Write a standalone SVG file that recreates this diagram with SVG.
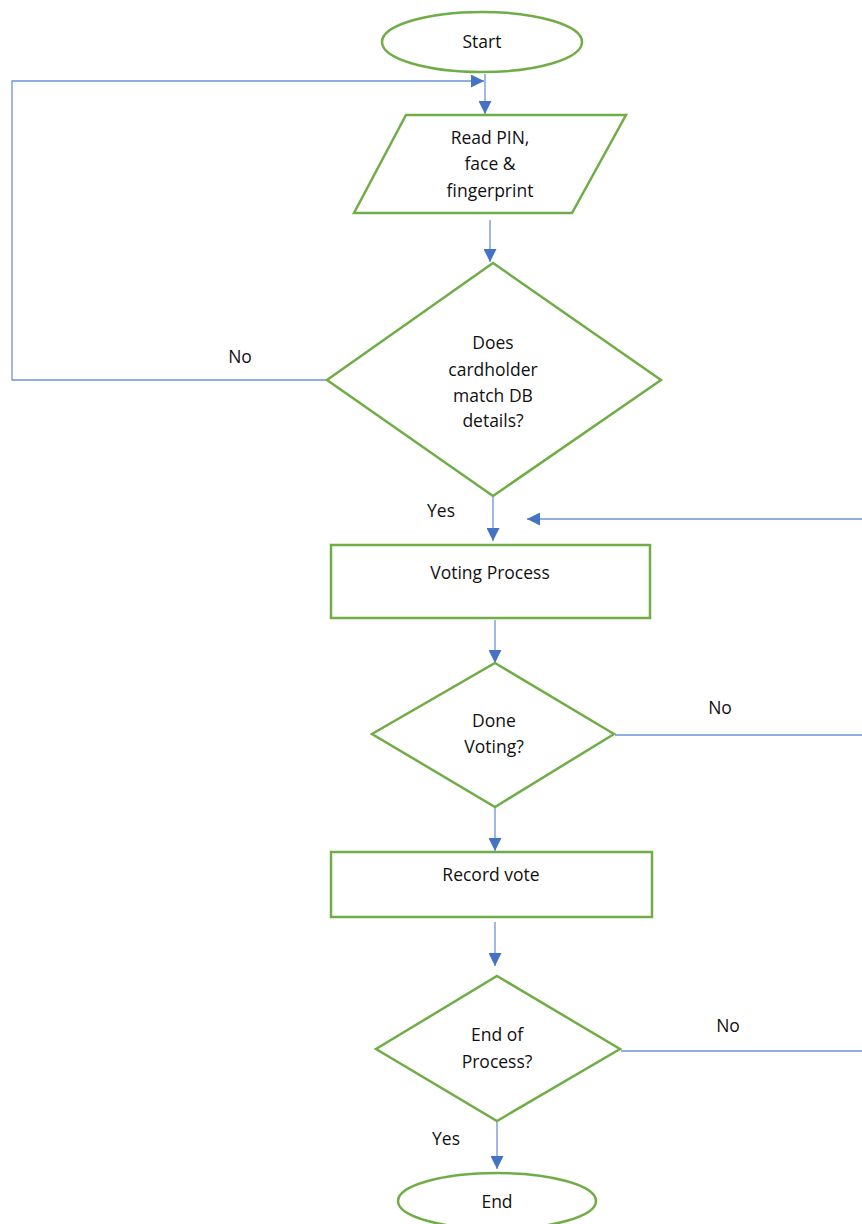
<svg xmlns="http://www.w3.org/2000/svg" width="862" height="1224" viewBox="0 0 862 1224">
<style>
.shape{fill:#fff;stroke:#70AD47;stroke-width:2.5}
.conn{fill:none;stroke:#6E93D6;stroke-width:1.3}
.t{font-family:"Open Sans","Liberation Sans",sans-serif;font-size:17.5px;fill:#111;text-anchor:middle}
</style>
<defs>
<marker id="ah" markerWidth="13" markerHeight="13" viewBox="0 0 12 12" refX="12" refY="6" orient="auto" markerUnits="userSpaceOnUse">
<path d="M0,0 L12,6 L0,12 Z" fill="#4472C4"/>
</marker>
</defs>
<rect width="862" height="1224" fill="#fff"/>
<g id="connectors">
<line class="conn" x1="485" y1="74" x2="485" y2="114" marker-end="url(#ah)"/>
<polyline class="conn" points="327,380 12,380 12,81 484,81" marker-end="url(#ah)"/>
<line class="conn" x1="490" y1="220" x2="490" y2="262" marker-end="url(#ah)"/>
<line class="conn" x1="493" y1="497" x2="493" y2="541" marker-end="url(#ah)"/>
<line class="conn" x1="862" y1="519" x2="527" y2="519" marker-end="url(#ah)"/>
<line class="conn" x1="495" y1="620" x2="495" y2="663" marker-end="url(#ah)"/>
<line class="conn" x1="615" y1="735" x2="862" y2="735"/>
<line class="conn" x1="495" y1="808" x2="495" y2="851" marker-end="url(#ah)"/>
<line class="conn" x1="495" y1="922" x2="495" y2="966" marker-end="url(#ah)"/>
<line class="conn" x1="621" y1="1051" x2="862" y2="1051"/>
<line class="conn" x1="497" y1="1122" x2="497" y2="1169" marker-end="url(#ah)"/>
<text class="t" x="240" y="363">No</text>
<text class="t" x="441" y="517">Yes</text>
<text class="t" x="720" y="714">No</text>
<text class="t" x="728" y="1032">No</text>
<text class="t" x="446" y="1145">Yes</text>
</g>
<g id="start">
<ellipse class="shape" cx="482" cy="42" rx="100" ry="30"/>
<text class="t" x="482" y="48">Start</text>
</g>
<g id="read">
<polygon class="shape" points="406,115 626,115 572,213 354,213"/>
<text class="t" x="490" y="144">Read PIN,</text>
<text class="t" x="490" y="170">face &amp;</text>
<text class="t" x="490" y="197">fingerprint</text>
</g>
<g id="match">
<polygon class="shape" points="493,263 661,380 493,496 327,380"/>
<text class="t" x="493" y="349">Does</text>
<text class="t" x="493" y="376">cardholder</text>
<text class="t" x="493" y="402">match DB</text>
<text class="t" x="493" y="427">details?</text>
</g>
<g id="voting">
<rect class="shape" x="331" y="545" width="319" height="73"/>
<text class="t" x="490" y="579">Voting Process</text>
</g>
<g id="done">
<polygon class="shape" points="495,663 614,734 495,807 372,734"/>
<text class="t" x="494" y="727">Done</text>
<text class="t" x="494" y="753">Voting?</text>
</g>
<g id="record">
<rect class="shape" x="331" y="852" width="321" height="65"/>
<text class="t" x="491" y="881">Record vote</text>
</g>
<g id="endproc">
<polygon class="shape" points="497,976 620,1049 497,1121 376,1049"/>
<text class="t" x="497" y="1041">End of</text>
<text class="t" x="497" y="1068">Process?</text>
</g>
<g id="end">
<ellipse class="shape" cx="497" cy="1201" rx="99" ry="28"/>
<text class="t" x="497" y="1208">End</text>
</g>
</svg>
